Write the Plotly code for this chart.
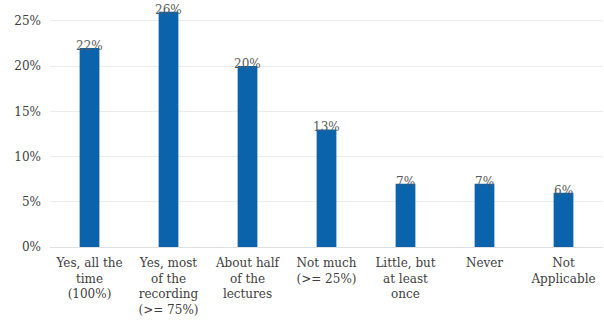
import plotly.graph_objects as go

categories = [
    "Yes, all the<br>time<br>(100%)",
    "Yes, most<br>of the<br>recording<br>(>= 75%)",
    "About half<br>of the<br>lectures",
    "Not much<br>(>= 25%)",
    "Little, but<br>at least<br>once",
    "Never",
    "Not<br>Applicable",
]
shares = [22, 26, 20, 13, 7, 7, 6]
y_ticks = [0, 5, 10, 15, 20, 25]
y_tick_labels = ["0%", "5%", "10%", "15%", "20%", "25%"]

FONT = "DejaVu Serif"
BAR_COLOR = "#0b63ab"

fig = go.Figure(
    go.Bar(
        x=categories,
        y=shares,
        marker=dict(color=BAR_COLOR, line=dict(width=0)),
        hoverinfo="skip",
    )
)

# value labels sit right on the top edge of each bar
for cat, val in zip(categories, shares):
    fig.add_annotation(
        x=cat, y=val, text=f"{val}%", showarrow=False,
        yanchor="bottom", yshift=-7,
        font=dict(family=FONT, size=12, color="#595959"),
    )

fig.update_layout(
    width=604, height=322,
    margin=dict(l=50, r=1, t=10, b=75, autoexpand=False),
    paper_bgcolor="white", plot_bgcolor="white",
    bargap=0.75,
    showlegend=False,
    font=dict(family=FONT, size=12, color="#404040"),
)
fig.update_xaxes(
    showgrid=False, showline=False, ticks="", tickangle=0,
    automargin=False, ticklabelstandoff=7,
    tickfont=dict(family=FONT, size=12, color="#404040"),
)
fig.update_yaxes(
    range=[0, 26.2], tickvals=y_ticks, ticktext=y_tick_labels,
    showgrid=True, gridcolor="#ececec", gridwidth=1,
    zeroline=True, zerolinecolor="#e0e0e0", zerolinewidth=1,
    showline=False, ticks="", ticklabelstandoff=8, automargin=False,
    tickfont=dict(family=FONT, size=12, color="#404040"),
)

fig.write_html("out.html")
